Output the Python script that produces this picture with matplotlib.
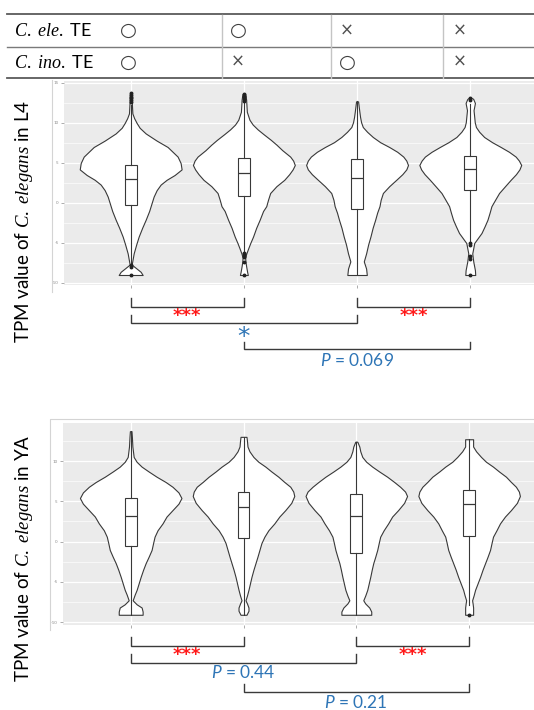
import matplotlib
matplotlib.use("Agg")
import matplotlib.pyplot as plt
from matplotlib.ticker import MultipleLocator
from matplotlib.transforms import blended_transform_factory
import numpy as np

plt.rcParams['font.family'] = ['Lato', 'DejaVu Sans']
plt.rcParams['mathtext.fontset'] = 'custom'
plt.rcParams['mathtext.it'] = 'Liberation Serif:italic'
plt.rcParams['mathtext.rm'] = 'Lato'
plt.rcParams['mathtext.sf'] = 'Lato:italic'

# ---------------- data ----------------
row_labels = [r"$\mathit{C.\ ele.}$ TE", r"$\mathit{C.\ ino.}$ TE"]
row_ele = ["○", "○", "×", "×"]
row_ino = ["○", "×", "○", "×"]

groups = [1, 2, 3, 4]

# L4 violin profiles: value, relative half-width
l4_v1_y = [-9.0, -8.6, -8.2, -7.7, -7.0, -6.3, -5.2, -4.2, -3.1, -2.1, -1.0, 0.0, 0.8, 1.6, 2.3, 2.9,
           3.5, 4.2, 5.0, 5.8, 6.4, 7.0, 7.8, 8.7, 9.4, 10.0, 10.6, 11.2, 12.4, 13.7]
l4_v1_w = [12, 10, 6, 1, 2, 3, 5.5, 8, 11.5, 15, 18.5, 21, 23, 26, 30, 36,
           44, 51, 50, 47, 42, 37, 26, 15, 9, 6, 3.5, 1.7, 1.2, 0.8]
l4_v2_y = [-9.0, -8.6, -7.9, -7.3, -6.8, -6.3, -5.7, -5.0, -4.2, -3.1, -2.1, -1.0, -0.4, 0.4, 1.25, 2.1,
           2.9, 3.6, 4.2, 4.75, 5.3, 5.8, 6.6, 7.3, 7.9, 8.6, 9.2, 9.8, 10.4, 11.4, 12.9, 13.6]
l4_v2_w = [4, 3.3, 2.3, 1.6, 1.3, 2.5, 4.3, 6.5, 9.3, 12.5, 16, 19.5, 22.7, 24.5, 26.7, 33,
           41, 46, 49.5, 51.7, 50, 47, 39, 33, 27.3, 20, 14, 9, 5.7, 3, 2.3, 1.5]
l4_v3_y = [-9.0, -8.2, -7.3, -6.3, -5.2, -4.2, -3.1, -2.1, -1.2, -0.4, 0.4, 1.25, 2.1, 2.9, 3.6, 4.2,
           4.75, 5.3, 5.8, 6.4, 7.0, 7.6, 8.25, 8.9, 9.5, 10.1, 10.75, 11.4, 12.0, 12.7]
l4_v3_w = [9.7, 9, 6.7, 9, 11, 13.3, 15.5, 18, 20, 22.3, 23.5, 25.7, 32, 39, 45, 49,
           50.7, 49, 46, 40, 32, 23, 15.7, 10, 5.7, 4, 3, 2.3, 1.7, 1]
l4_v4_y = [-9.0, -8.4, -7.3, -6.3, -5.0, -4.4, -3.75, -2.9, -2.1, -1.2, -0.4, 0.4, 1.25, 2.1, 2.9, 3.6,
           4.2, 4.75, 5.3, 5.8, 6.4, 7.0, 7.6, 8.25, 8.9, 9.5, 10.1, 10.75, 11.6, 12.5, 13.0, 13.1]
l4_v4_w = [5, 4.7, 3, 2, 4, 7.5, 11.3, 14.5, 17.3, 19.5, 21.3, 25, 29, 35, 40.7, 46,
           49.5, 51.3, 49, 45.7, 39, 30.7, 22, 14, 9, 5.7, 4.5, 4, 3.3, 4.7, 3, 2]

# L4 box statistics
l4_q1 = [-0.25, 0.92, -0.75, 1.63]
l4_med = [3.0, 3.8, 3.17, 4.25]
l4_q3 = [4.75, 5.58, 5.46, 5.92]
l4_whislo = [-7.6, -6.0, -9.0, -4.9]
l4_whishi = [12.3, 12.6, 12.7, 12.4]
l4_fliers = [[12.6, 12.9, 13.1, 13.3, 13.5, 13.7, -7.8, -8.0, -9.0],
             [12.8, 13.0, 13.2, 13.4, 13.6, -6.2, -6.4, -6.6, -6.8, -7.4, -9.0],
             [],
             [12.9, 13.1, -5.0, -5.2, -6.6, -7.0, -9.0]]

# YA violin profiles
ya_v1_y = [-9.1, -8.7, -8.2, -7.8, -7.3, -6.6, -6.0, -5.2, -4.4, -3.5, -2.7, -1.9, -1.05, -0.2, 0.6, 1.4,
           2.25, 3.1, 3.9, 4.7, 5.4, 6.1, 6.8, 7.4, 8.05, 8.7, 9.3, 9.9, 10.5, 11.8, 13.0, 13.7]
ya_v1_w = [12, 12, 11, 6, 2, 4, 6, 8, 10, 12.5, 15, 18, 21, 22.5, 24, 27,
           32, 36, 42, 48, 51, 48, 42, 35, 26, 18, 11, 6, 3, 1.7, 1.2, 0.8]
ya_v2_y = [-9.1, -8.6, -8.2, -7.7, -7.3, -6.7, -6.0, -5.2, -4.4, -3.5, -2.7, -1.9, -1.05, -0.2, 0.6, 1.4,
           2.25, 3.1, 3.9, 4.8, 5.65, 6.2, 6.8, 7.4, 8.05, 8.7, 9.3, 9.9, 10.5, 11.2, 11.8, 12.5, 13.0]
ya_v2_w = [3, 5, 5, 3.5, 2, 3.5, 5, 6.5, 8, 10, 12, 14, 16, 18, 21, 25,
           31, 36, 42, 48, 51, 50, 47, 41, 35, 28, 22, 15, 10, 6, 4, 3.5, 3]
ya_v3_y = [-9.1, -8.7, -8.2, -7.7, -7.3, -6.7, -6.0, -5.2, -4.4, -3.5, -2.7, -1.9, -1.05, -0.2, 0.6, 1.4,
           2.25, 3.1, 3.9, 4.8, 5.65, 6.2, 6.8, 7.4, 8.05, 8.7, 9.3, 9.9, 10.5, 11.2, 11.8, 12.4]
ya_v3_w = [15, 15, 13, 9, 7, 9, 11, 12.5, 14, 15.5, 17, 19, 21, 22.5, 24, 27.5,
           32, 36, 42, 48, 51, 49, 44, 38, 31, 23, 16, 10, 6, 4, 3, 1]
ya_v4_y = [-9.1, -8.6, -8.2, -7.7, -7.3, -6.7, -6.0, -5.2, -4.4, -3.5, -2.7, -1.9, -1.05, -0.2, 0.6, 1.4,
           2.25, 3.1, 3.9, 4.8, 5.65, 6.2, 6.8, 7.4, 8.05, 8.7, 9.3, 9.9, 10.5, 11.2, 11.8, 12.3, 12.7]
ya_v4_w = [4, 4, 4, 3.5, 3, 4.5, 6, 8.5, 11, 13.5, 16, 18.5, 21, 22.5, 24, 27.5,
           31, 36, 42, 48, 51, 50, 47, 42, 37, 30, 24, 17, 12, 7, 4, 4, 4]

# YA box statistics
ya_q1 = [-0.56, 0.48, -1.39, 0.68]
ya_med = [3.17, 4.25, 3.17, 4.7]
ya_q3 = [5.4, 6.2, 5.86, 6.4]
ya_whislo = [-9.1, -9.1, -9.1, -7.9]
ya_whishi = [13.7, 13.0, 12.4, 12.7]
ya_fliers = [[], [], [], [-9.1]]

l4_ticks = [-10, -5, 0, 5, 10, 15]
ya_ticks = [-10, -5, 0, 5, 10]

# comparisons (group a, group b, label)
l4_comparisons = [(1, 2, "***"), (3, 4, "***"), (1, 3, "*"), (2, 4, r"$\mathsf{P}$ = 0.069")]
ya_comparisons = [(1, 2, "***"), (3, 4, "***"), (1, 3, r"$\mathsf{P}$ = 0.44"), (2, 4, r"$\mathsf{P}$ = 0.21")]

y_label_l4 = r"TPM value of $\mathit{C.\ elegans}$ in L4"
y_label_ya = r"TPM value of $\mathit{C.\ elegans}$ in YA"

# ---------------- figure ----------------
W, H = 534, 710
fig = plt.figure(figsize=(W / 100, H / 100), dpi=100)


def px_axes(x0, y0, x1, y1):
    return fig.add_axes([x0 / W, 1 - y1 / H, (x1 - x0) / W, (y1 - y0) / H])


EDGE = '#383838'


def draw_panel(ax, profiles, q1, med, q3, wlo, whi, fl, ticks, xlim, ylim):
    ax.set_facecolor('#EBEBEB')
    stats = []
    for (ys, ws), m in zip(profiles, med):
        stats.append(dict(coords=np.array(ys), vals=np.array(ws, dtype=float),
                          mean=m, median=m, min=ys[0], max=ys[-1]))
    parts = ax.violin(stats, positions=groups, widths=0.9, showmeans=False,
                      showextrema=False, showmedians=False)
    for b in parts['bodies']:
        b.set_facecolor('white')
        b.set_edgecolor(EDGE)
        b.set_alpha(1)
        b.set_linewidth(0.8)
        b.set_zorder(2)
    bstats = []
    for i in range(4):
        bstats.append(dict(med=med[i], q1=q1[i], q3=q3[i], whislo=wlo[i], whishi=whi[i],
                           fliers=np.array(fl[i])))
    ax.bxp(bstats, positions=groups, widths=0.105, showcaps=False, patch_artist=True,
           boxprops=dict(facecolor='white', edgecolor=EDGE, linewidth=0.8),
           medianprops=dict(color=EDGE, linewidth=0.9),
           whiskerprops=dict(color=EDGE, linewidth=0.8),
           flierprops=dict(marker='o', markersize=1.8, markerfacecolor='#222222',
                           markeredgecolor='#222222', linestyle='none'),
           zorder=3, manage_ticks=False)
    ax.set_xlim(*xlim)
    ax.set_ylim(*ylim)
    ax.set_yticks(ticks)
    ax.set_yticklabels([str(t) for t in ticks])
    ax.yaxis.set_minor_locator(MultipleLocator(2.5))
    ax.set_xticks(groups)
    ax.set_xticklabels([])
    ax.grid(which='major', color='white', linewidth=0.9)
    ax.grid(which='minor', axis='y', color='white', linewidth=0.45)
    ax.set_axisbelow(True)
    for s in ax.spines.values():
        s.set_visible(False)
    ax.tick_params(which='major', length=2.5, width=0.5, color='#8C8C8C', labelsize=3.2,
                   labelcolor='#8C8C8C', pad=1.5)
    ax.tick_params(which='minor', length=0)


ax1 = px_axes(64, 81, 534, 285)
draw_panel(ax1, [(l4_v1_y, l4_v1_w), (l4_v2_y, l4_v2_w), (l4_v3_y, l4_v3_w), (l4_v4_y, l4_v4_w)],
           l4_q1, l4_med, l4_q3, l4_whislo, l4_whishi, l4_fliers, l4_ticks,
           (0.411, 4.563), (-10.25, 15.25))

ax2 = px_axes(63, 423, 534, 625)
draw_panel(ax2, [(ya_v1_y, ya_v1_w), (ya_v2_y, ya_v2_w), (ya_v3_y, ya_v3_w), (ya_v4_y, ya_v4_w)],
           ya_q1, ya_med, ya_q3, ya_whislo, ya_whishi, ya_fliers, ya_ticks,
           (0.40, 4.575), (-10.37, 14.72))

# overlay in pixel coordinates
ov = fig.add_axes([0, 0, 1, 1], zorder=5)
ov.set_xlim(0, W)
ov.set_ylim(H, 0)
ov.set_autoscale_on(False)
ov.axis('off')
ov.patch.set_alpha(0)

# ggplot image borders
ov.plot([52, 52], [80, 292], color='#D4D4D4', lw=0.8)
ov.plot([50, 50, W], [630, 419, 419], color='#D4D4D4', lw=0.8)

# table
ov.plot([7, W], [14, 14], color='#5A5A5A', lw=1.3)
ov.plot([7, W], [46.7, 46.7], color='#7A7A7A', lw=1.0)
ov.plot([7, W], [78.3, 78.3], color='#5A5A5A', lw=1.3)
for xv in [222, 331, 443]:
    ov.plot([xv, xv], [14.5, 78], color='#C4C4C4', lw=1.0)
sym_x = [128, 238, 347, 460]
for r, (lab, syms) in enumerate(zip(row_labels, [row_ele, row_ino])):
    yc = [30.5, 62.0][r]
    ov.text(14, yc, lab, fontsize=13, ha='left', va='center', color='black')
    for xs, s in zip(sym_x, syms):
        if s == "○":
            ov.text(xs, yc, s, fontsize=14, ha='center', va='center', color='#404040',
                    family='DejaVu Sans')
        else:
            ov.text(xs, yc, s, fontsize=12, ha='center', va='center', color='#505050',
                    family='DejaVu Sans')

# y labels
ov.text(24, 221, y_label_l4, rotation=90, ha='center', va='center', fontsize=13.5)
ov.text(24, 558, y_label_ya, rotation=90, ha='center', va='center', fontsize=13.5)

RED = '#FF1A1A'
BLUE = '#2E75B6'


def draw_brackets(ax, comps, rows):
    tr = blended_transform_factory(ax.transData, ov.transData)
    for (a, b, lab), (ytop, ybot, ylab) in zip(comps, rows):
        ov.plot([a, a, b, b], [ytop, ybot, ybot, ytop], color='#3A3A3A', lw=1.0,
                transform=tr, solid_joinstyle='miter')
        xm = (a + b) / 2
        if lab == "***":
            ov.text(xm, ylab, lab, color=RED, fontsize=13, fontweight='bold', ha='center',
                    va='center', transform=tr, family='DejaVu Sans')
        elif lab == "*":
            ov.text(xm, ylab, lab, color=BLUE, fontsize=18, ha='center', va='center',
                    transform=tr, family='DejaVu Sans')
        else:
            ov.text(xm, ylab, lab, color=BLUE, fontsize=12.5, ha='center', va='center',
                    transform=tr)


draw_brackets(ax1, l4_comparisons,
              [(298, 307.3, 316.5), (298, 307.3, 316.5), (315, 323.3, 337), (341.5, 349.3, 360)])
draw_brackets(ax2, ya_comparisons,
              [(637, 646, 655), (637, 646, 655), (654, 662.7, 673), (684, 692.3, 702.7)])

fig.savefig("out.png", dpi=100)
